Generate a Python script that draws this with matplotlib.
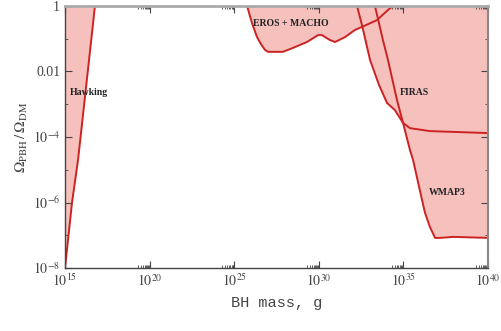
import numpy as np
import matplotlib
matplotlib.use("Agg")
import matplotlib.pyplot as plt
import matplotlib.ticker as ticker

# constraint curves (log10 M [g], log10 Omega_PBH/Omega_DM)
hawking_logm = [15.0, 15.41, 15.77, 16.18, 16.77]
hawking_logo = [-8.0, -6.02, -4.70, -2.78, 0.0]

eros_logm = [25.76, 26.05, 26.35, 26.60, 26.82, 27.0, 27.88, 28.47, 29.30, 29.95, 30.19,
             30.66, 30.96, 31.55, 32.14, 32.55, 33.44, 34.09, 34.39]
eros_logo = [0.0, -0.52, -0.95, -1.18, -1.34, -1.40, -1.40, -1.28, -1.10, -0.89, -0.89,
             -1.04, -1.10, -0.95, -0.73, -0.64, -0.43, -0.12, 0.0]

firas_logm = [32.26, 32.55, 33.03, 33.55, 34.03, 34.50, 34.98, 35.39, 36.57, 40.0]
firas_logo = [0.0, -0.58, -1.65, -2.40, -2.96, -3.18, -3.57, -3.73, -3.82, -3.88]

wmap_logm = [33.32, 33.79, 34.09, 34.62, 34.98, 35.39, 35.57, 36.10, 36.28, 36.57,
             36.87, 37.16, 37.93, 40.0]
wmap_logo = [0.0, -1.04, -1.65, -2.87, -3.57, -4.40, -4.70, -5.92, -6.32, -6.75,
             -7.08, -7.08, -7.05, -7.08]

x_major = [15, 20, 25, 30, 35, 40]
y_major = [0, -2, -4, -6, -8]
y_labels = ["1", "0.01", r"$10^{-4}$", r"$10^{-6}$", r"$10^{-8}$"]

FILL = "#f6c1bd"
LINE = "#cc2222"

plt.rcParams["mathtext.fontset"] = "stix"
plt.rcParams["font.family"] = "Liberation Serif"

fig = plt.figure(figsize=(5.02, 3.31), dpi=100)
ax = fig.add_axes([0.1295, 0.1903, 0.8426, 0.7916])
ax.set_xscale("log")
ax.set_yscale("log")


def pw(a):
    return 10.0 ** np.array(a)


# Hawking: region left of the line
hx, hy = pw(hawking_logm), pw(hawking_logo)
ax.fill(np.r_[hx, 1e15], np.r_[hy, 1.0], color=FILL, lw=0)

# region below top axis for the others
for lm, lo in [(eros_logm, eros_logo), (firas_logm, firas_logo), (wmap_logm, wmap_logo)]:
    x, y = pw(lm), pw(lo)
    ax.fill(np.r_[x, 1e40], np.r_[y, 1.0], color=FILL, lw=0)

for lm, lo in [(hawking_logm, hawking_logo), (eros_logm, eros_logo),
               (firas_logm, firas_logo), (wmap_logm, wmap_logo)]:
    ax.plot(pw(lm), pw(lo), color=LINE, lw=1.4, solid_joinstyle="round")

ax.set_xlim(1e15, 1e40)
ax.set_ylim(1e-8, 1)

ax.xaxis.set_major_locator(ticker.FixedLocator(pw(x_major)))
ax.xaxis.set_major_formatter(ticker.FixedFormatter([r"$10^{%d}$" % k for k in x_major]))
minor_x = [m * 10.0 ** (k - 1) for k in x_major[1:] for m in range(2, 10)]
ax.xaxis.set_minor_locator(ticker.FixedLocator(minor_x))
ax.xaxis.set_minor_formatter(ticker.NullFormatter())

ax.yaxis.set_major_locator(ticker.FixedLocator(pw(y_major)))
ax.yaxis.set_major_formatter(ticker.FixedFormatter(y_labels))
ax.yaxis.set_minor_locator(ticker.FixedLocator(pw([-1, -3, -5, -7])))
ax.yaxis.set_minor_formatter(ticker.NullFormatter())

ax.tick_params(which="both", direction="in", top=True, right=True, colors="#444444",
               labelcolor="#444444", labelsize=10)
ax.tick_params(which="major", length=5, width=0.8)
ax.tick_params(which="minor", length=2.5, width=0.6)

for s in ["left", "bottom"]:
    ax.spines[s].set_color("#444444")
    ax.spines[s].set_linewidth(1.0)
ax.spines["top"].set_color("#aaaaaa")
ax.spines["top"].set_linewidth(2.0)
ax.spines["right"].set_color("#888888")
ax.spines["right"].set_linewidth(1.5)

ax.set_ylabel(r"$\Omega_{\rm PBH}\,/\,\Omega_{\rm DM}$", fontsize=11, color="#444444", labelpad=2)
ax.set_xlabel("BH mass, g", family="Liberation Mono", fontsize=11, color="#444444", labelpad=5)

lab = dict(fontsize=7, fontweight="bold", color="#222222", va="center", ha="left")
ax.text(10 ** 15.3, 10 ** -2.65, "Hawking", **lab)
ax.text(10 ** 26.1, 10 ** -0.53, "EROS + MACHO", **lab)
ax.text(10 ** 34.8, 10 ** -2.65, "FIRAS", **lab)
ax.text(10 ** 36.5, 10 ** -5.7, "WMAP3", **lab)

fig.savefig("out.png", dpi=100)
